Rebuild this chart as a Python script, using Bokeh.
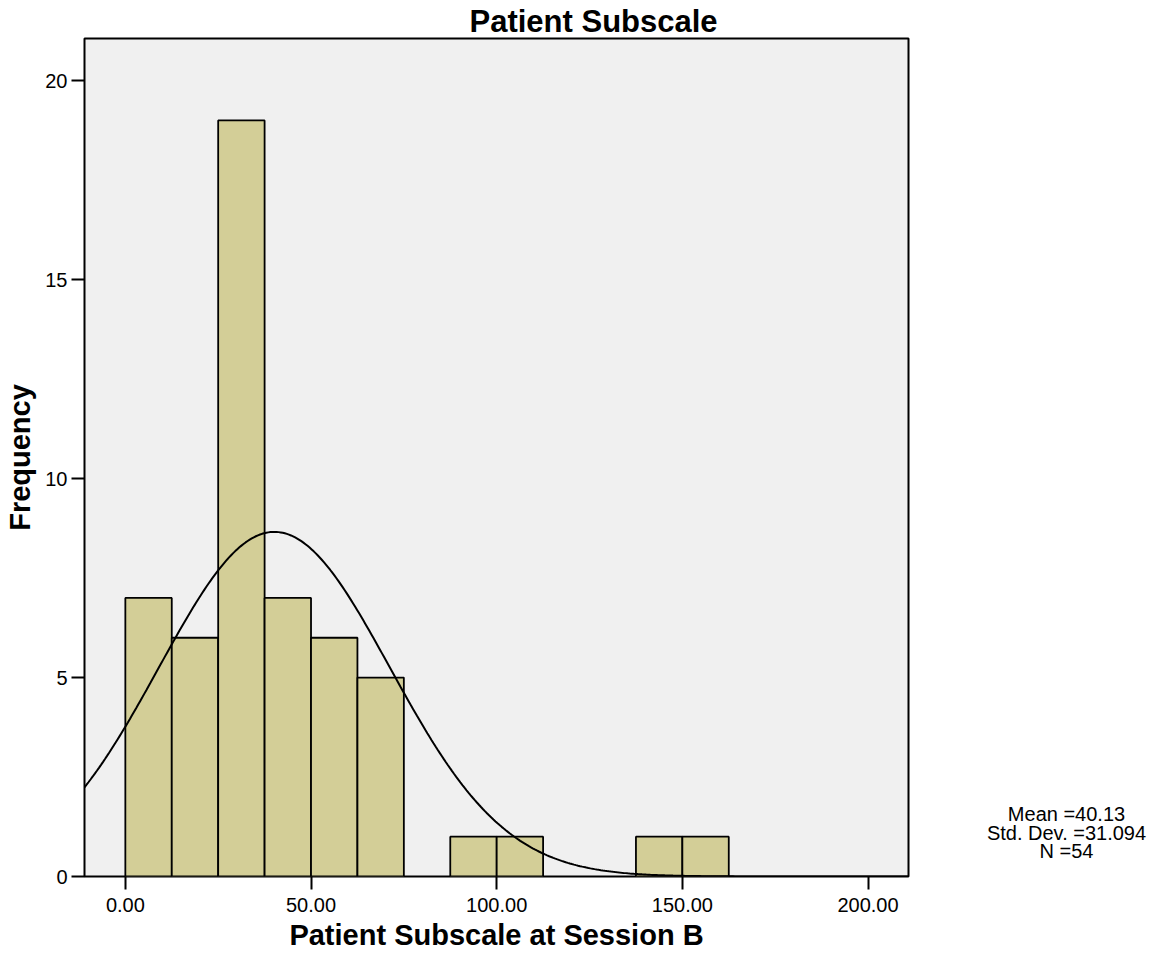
import numpy as np
from bokeh.plotting import figure
from bokeh.layouts import row
from bokeh.models import Range1d, FixedTicker, NumeralTickFormatter
from bokeh.core.properties import value
from bokeh.embed import file_html
from bokeh.resources import INLINE

# ---- data ----
bin_starts = [0.0, 12.5, 25.0, 37.5, 50.0, 62.5, 87.5, 100.0, 137.5, 150.0]
counts = [7, 6, 19, 7, 6, 5, 1, 1, 1, 1]
bin_width = 12.5
mean_val = 40.13
sd_val = 31.094
n_val = 54
x_ticks = [0, 50, 100, 150, 200]
y_ticks = [0, 5, 10, 15, 20]
title_text = "Patient Subscale"
x_label = "Patient Subscale at Session B"
y_label = "Frequency"
stats_lines = ["Mean =40.13", "Std. Dev. =31.094", "N =54"]

FONT = "Liberation Sans"

x0, x1 = -11.0, 210.9
y0, y1 = 0.0, 21.06

p = figure(width=910, height=958, output_backend="svg", toolbar_location=None,
           x_range=Range1d(x0, x1), y_range=Range1d(y0, y1),
           min_border_left=84, min_border_right=2, min_border_top=38, min_border_bottom=82)

p.background_fill_color = "#F0F0F0"
p.border_fill_color = "white"
p.outline_line_color = "black"
p.outline_line_width = 2
p.xgrid.visible = False
p.ygrid.visible = False

p.title.text = title_text
p.title.align = "left"
p.title.offset = 385
p.title.standoff = 0
p.title.text_font = FONT
p.title.text_font_size = "31px"
p.title.text_font_style = "bold"
p.title.text_color = "black"

# bars
lefts = np.array(bin_starts)
rights = lefts + bin_width
p.quad(left=lefts, right=rights, bottom=0, top=counts,
       fill_color="#D3CE97", line_color="black", line_width=1.8)

# normal curve from the stated statistics
xs = np.linspace(x0, x1, 400)
ys = n_val * bin_width / (sd_val * np.sqrt(2 * np.pi)) * np.exp(-0.5 * ((xs - mean_val) / sd_val) ** 2)
p.line(xs, ys, line_color="black", line_width=2)

# axes
for ax in (p.xaxis[0], p.yaxis[0]):
    ax.axis_line_color = None
    ax.major_tick_in = 0
    ax.major_tick_out = 13
    ax.major_tick_line_width = 2
    ax.major_tick_line_color = "black"
    ax.minor_tick_line_color = None
    ax.major_label_text_font = FONT
    ax.major_label_text_font_size = "20px"
    ax.major_label_text_color = "black"
    ax.axis_label_text_font = FONT
    ax.axis_label_text_font_size = "29px"
    ax.axis_label_text_font_style = "bold"
    ax.axis_label_text_color = "black"

p.xaxis.ticker = FixedTicker(ticks=x_ticks)
p.xaxis.formatter = NumeralTickFormatter(format="0.00")
p.xaxis.axis_label = x_label
p.xaxis.major_label_standoff = 8
p.xaxis.axis_label_standoff = 4

p.yaxis.ticker = FixedTicker(ticks=y_ticks)
p.yaxis.axis_label = y_label
p.yaxis.major_label_standoff = 4
p.yaxis.axis_label_standoff = 6

# statistics block in a side panel; its frame matches the main frame (838 px tall),
# y measured in pixels up from the frame bottom
s = figure(width=250, height=958, output_backend="svg", toolbar_location=None,
           x_range=Range1d(0, 250), y_range=Range1d(0, 838),
           x_axis_type=None, y_axis_type=None,
           min_border_left=0, min_border_right=0, min_border_top=38, min_border_bottom=82,
           outline_line_color=None)
s.grid.visible = False
s.background_fill_color = "white"
s.border_fill_color = "white"
s.text(x=[156] * 3, y=[63, 44, 26], text=stats_lines,
       text_align="center", text_baseline="middle",
       text_font=value(FONT), text_font_size=value("20px"), text_color="black")

layout = row(p, s, spacing=0)
open("out.html", "w").write(file_html(layout, INLINE))
